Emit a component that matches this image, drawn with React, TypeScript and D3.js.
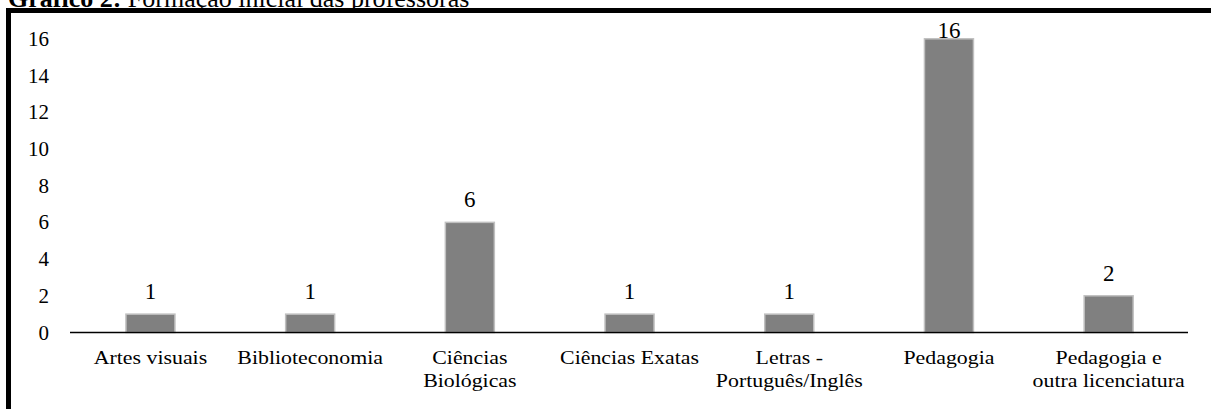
import * as d3 from 'd3'

const categories = [
  ['Artes visuais'],
  ['Biblioteconomia'],
  ['Ciências', 'Biológicas'],
  ['Ciências Exatas'],
  ['Letras -', 'Português/Inglês'],
  ['Pedagogia'],
  ['Pedagogia e', 'outra licenciatura'],
]
const values = [1, 1, 6, 1, 1, 16, 2]
const yTicks = [0, 2, 4, 6, 8, 10, 12, 14, 16]
const title = 'Formação inicial das professoras'

const W = 1211
const H = 409
const font = '"Liberation Serif", "Times New Roman", serif'

const App = () => {
  const xScale = d3
    .scaleBand<number>()
    .domain(d3.range(values.length))
    .range([70.6, 1188.5])
    .padding(0)
  const yScale = d3.scaleLinear().domain([0, 16]).range([332.5, 38.8])

  const step = xScale.bandwidth()
  const barW = 49

  return (
    <svg
      width={W}
      height={H}
      style={{ position: 'absolute', left: 0, top: 0, background: '#fff' }}
      fontFamily={font}
    >
      <text x={8} y={7} fontSize={26} fill="#000">
        <tspan fontWeight="bold">Gráfico 2: </tspan>
        {title}
      </text>
      <path d={`M8.5,${H + 10} V10.5 H${W + 10}`} fill="none" stroke="#000" strokeWidth={5} />

      {yTicks.map(t => (
        <text
          key={t}
          x={49}
          y={yScale(t)}
          textAnchor="end"
          dominantBaseline="central"
          fontSize={21}
          fill="#000"
        >
          {t}
        </text>
      ))}

      {values.map((v, i) => {
        const cx = (xScale(i) ?? 0) + step / 2
        return (
          <g key={i}>
            <rect
              x={cx - barW / 2}
              y={yScale(v)}
              width={barW}
              height={yScale(0) - yScale(v)}
              fill="#808080"
              stroke="#c0c0c0"
              strokeWidth={1.5}
            />
            <text
              x={cx}
              y={Math.max(yScale(v) - 15, 38)}
              textAnchor="middle"
              fontSize={23}
              fill="#000"
            >
              {v}
            </text>
          </g>
        )
      })}

      <line x1={70} x2={1188} y1={yScale(0)} y2={yScale(0)} stroke="#000" strokeWidth={1.5} />

      {categories.map((lines, i) => {
        const cx = (xScale(i) ?? 0) + step / 2
        return (
          <g key={i} transform={`translate(${cx},0) scale(1.15,1)`}>
            {lines.map((l, j) => (
              <text
                key={j}
                x={0}
                y={364 + j * 23}
                textAnchor="middle"
                fontSize={19}
                fill="#000"
              >
                {l}
              </text>
            ))}
          </g>
        )
      })}
    </svg>
  )
}

export default App
